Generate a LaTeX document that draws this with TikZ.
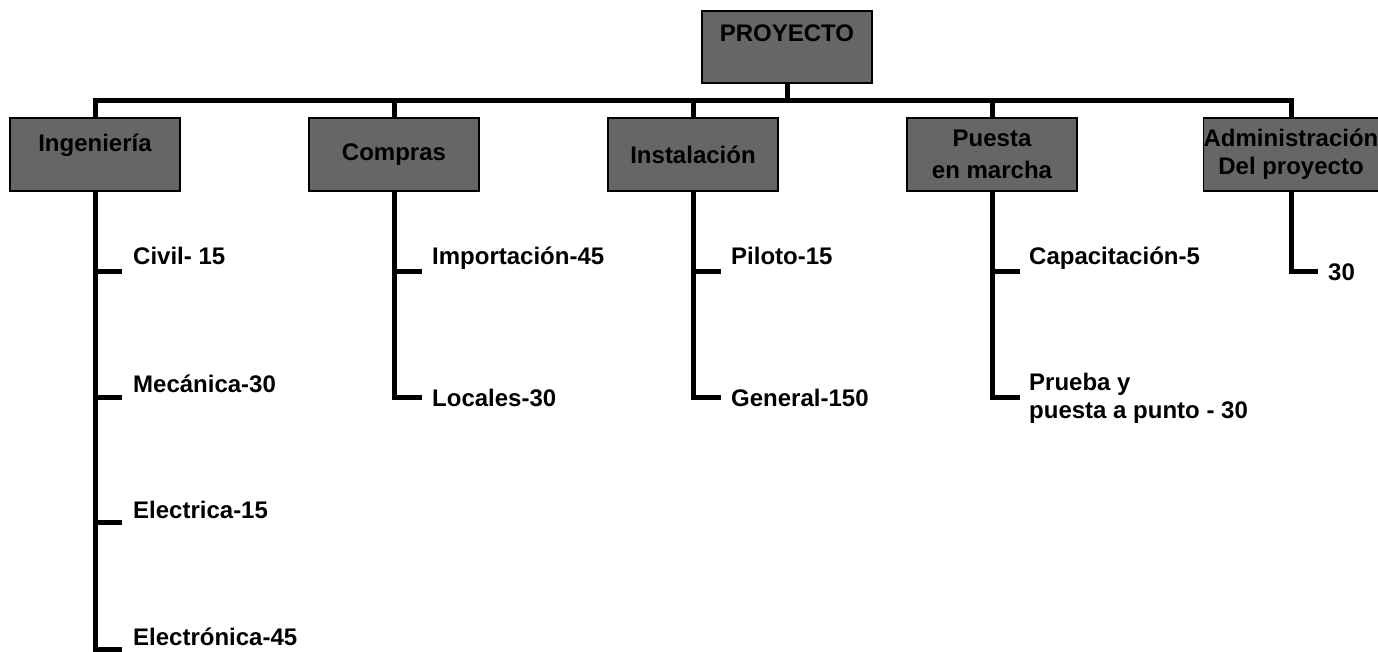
\documentclass[tikz,border=0pt]{standalone}
\usepackage{fontspec}
\setmainfont{Liberation Sans}
\usetikzlibrary{positioning}
\usepackage{xcolor}
\definecolor{boxgray}{HTML}{666666}

\begin{document}
\begin{tikzpicture}[x=1pt,y=-1pt,
	caja/.style={draw=black, line width=1.5pt, fill=boxgray, minimum width=170pt, minimum height=73pt, inner sep=0pt, align=center, font=\fontsize{24}{32}\selectfont\bfseries},
	hoja/.style={anchor=base west, inner sep=0pt, align=left, font=\fontsize{24}{28}\selectfont\bfseries},
	rama/.style={line width=5pt, line join=miter}]
			\useasboundingbox (0,0) rectangle (1378,652);

			% cajas
			\node[caja, minimum height=72pt] (proj) at (787,47) {PROYECTO\\[-5pt]~};
			\node[caja] (ing) at (95,154.5) {Ingeniería\\[-8pt]~};
			\node[caja] (com) at (394,154.5) {Compras};
			\node[caja] (ins) at (693,154.5) {Instalación};
			\node[caja] (pue) at (992,154.5) {Puesta\\en marcha};
			\node[caja, minimum width=168pt, font=\fontsize{24}{28}\selectfont\bfseries] (adm) at (1291,154.5) {Administración\\Del proyecto};

			% tareas
			\node[hoja] (civ) at (133,265) {Civil- 15};
			\node[hoja] (mec) at (133,392) {Mecánica-30};
			\node[hoja] (ele) at (133,518) {Electrica-15};
			\node[hoja] (elo) at (133,645) {Electrónica-45};
			\node[hoja] (imp) at (432,265) {Importación-45};
			\node[hoja] (loc) at (432,406) {Locales-30};
			\node[hoja] (pil) at (731,265) {Piloto-15};
			\node[hoja] (gen) at (731,406) {General-150};
			\node[hoja] (cap) at (1029,265) {Capacitación-5};
			\node[hoja] (pru) at (1029,418) {Prueba y\\puesta a punto - 30};
			\node[hoja] (tre) at (1328,280) {30};

			% puntas de las ramas
			\coordinate (barra) at (787,100.5);
			\coordinate (civ-t) at (122,272);
			\coordinate (mec-t) at (122,397);
			\coordinate (ele-t) at (122,522);
			\coordinate (elo-t) at (122,649);
			\coordinate (imp-t) at (422,272);
			\coordinate (loc-t) at (422,397);
			\coordinate (pil-t) at (721,272);
			\coordinate (gen-t) at (721,397);
			\coordinate (cap-t) at (1020,272);
			\coordinate (pru-t) at (1020,397);
			\coordinate (tre-t) at (1318,272);

			\draw[rama] (proj.south) -- (barra);
			\draw[rama] (ing.north) |- (adm.north |- barra) -- (adm.north);
			\draw[rama] (com.north) -- (com.north |- barra);
			\draw[rama] (ins.north) -- (ins.north |- barra);
			\draw[rama] (pue.north) -- (pue.north |- barra);

			\draw[rama] (ing.south) |- (elo-t);
			\draw[rama] (ing.south |- civ-t) -- (civ-t);
			\draw[rama] (ing.south |- mec-t) -- (mec-t);
			\draw[rama] (ing.south |- ele-t) -- (ele-t);
			\draw[rama] (com.south) |- (loc-t);
			\draw[rama] (com.south |- imp-t) -- (imp-t);
			\draw[rama] (ins.south) |- (gen-t);
			\draw[rama] (ins.south |- pil-t) -- (pil-t);
			\draw[rama] (pue.south) |- (pru-t);
			\draw[rama] (pue.south |- cap-t) -- (cap-t);
			\draw[rama] (adm.south) |- (tre-t);
		\end{tikzpicture}
\end{document}
